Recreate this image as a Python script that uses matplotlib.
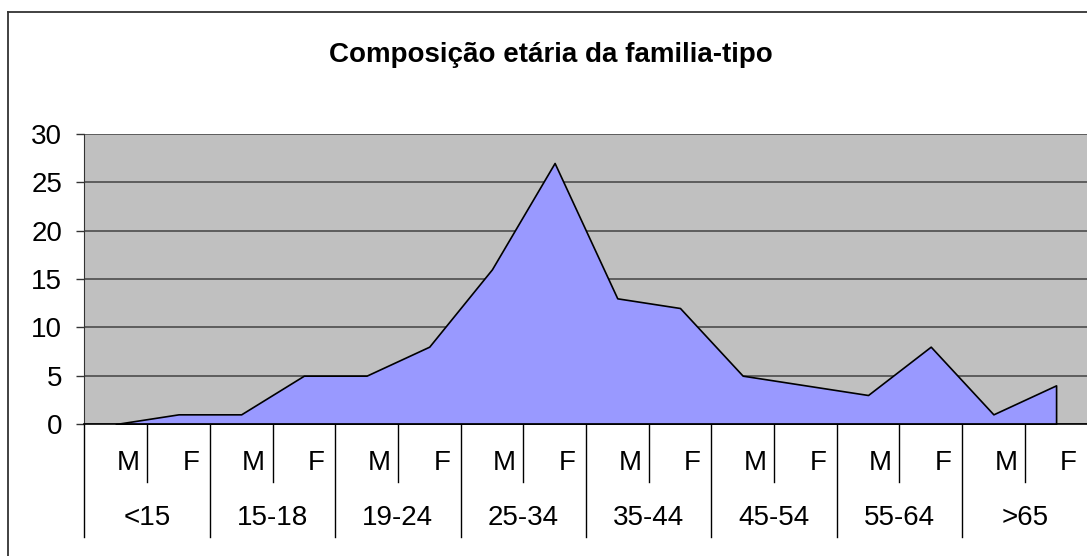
import numpy as np
import matplotlib
matplotlib.use('Agg')
from matplotlib import pyplot as plt
from matplotlib.lines import Line2D

## data
groups = ['<15', '15-18', '19-24', '25-34', '35-44', '45-54', '55-64', '>65']
sexes = ['M', 'F']
values = [0, 1, 1, 5, 5, 8, 16, 27, 13, 12, 5, 4, 3, 8, 1, 4]
yticks = [0, 5, 10, 15, 20, 25, 30]

plt.rcParams['font.family'] = ['Liberation Sans', 'DejaVu Sans']

fig = plt.figure(figsize=(10.87, 5.56), dpi=100)
ax = fig.add_axes([0.0777, 0.2374, 0.9227, 0.5216])

x = np.arange(len(values))
ax.set_facecolor('#c0c0c0')
ax.fill_between(x, values, 0, facecolor='#9999ff', edgecolor='black', linewidth=1.2, zorder=3)

ax.set_xlim(-0.5, len(values) - 0.5)
ax.set_ylim(0, 30)
ax.set_yticks(yticks)
ax.yaxis.grid(True, color='#555555', linewidth=1.3, zorder=1)
ax.set_axisbelow(True)
ax.tick_params(axis='y', direction='out', length=6, width=1, color='#333333',
               labelsize=20, pad=10)
ax.set_xticks([])

for s in ['top', 'right']:
    ax.spines[s].set_visible(False)
ax.spines['left'].set_color('#333333')
ax.spines['bottom'].set_color('black')
ax.spines['bottom'].set_linewidth(1.2)
ax.spines['bottom'].set_zorder(4)

## two level category axis
trans = ax.get_xaxis_transform()
ah = 290.0
for i in range(len(values)):
    ax.text(i + 0.2, -39 / ah, sexes[i % 2], transform=trans, ha='center', va='center',
            fontsize=20, clip_on=False)
    xb = i + 0.5
    if i % 2 == 0:
        ax.add_line(Line2D([xb, xb], [0, -58 / ah], transform=trans, color='black',
                           linewidth=1, clip_on=False))
for g, name in enumerate(groups):
    ax.text(2 * g + 0.5, -94 / ah, name, transform=trans, ha='center', va='center',
            fontsize=20, clip_on=False)
    xb = 2 * g - 0.5
    ax.add_line(Line2D([xb, xb], [0, -113 / ah], transform=trans, color='black',
                       linewidth=1, clip_on=False))

fig.text(551 / 1087, 1 - 55 / 556, 'Composição etária da familia-tipo', ha='center',
         va='center', fontsize=20, fontweight='bold')

## chart frame
fig.add_artist(Line2D([8 / 1087, 1], [1 - 12 / 556, 1 - 12 / 556], color='#333333', linewidth=1.3))
fig.add_artist(Line2D([8 / 1087, 8 / 1087], [1 - 12 / 556, 0], color='#333333', linewidth=1.3))

plt.savefig('out.png', dpi=100)
plt.close()
